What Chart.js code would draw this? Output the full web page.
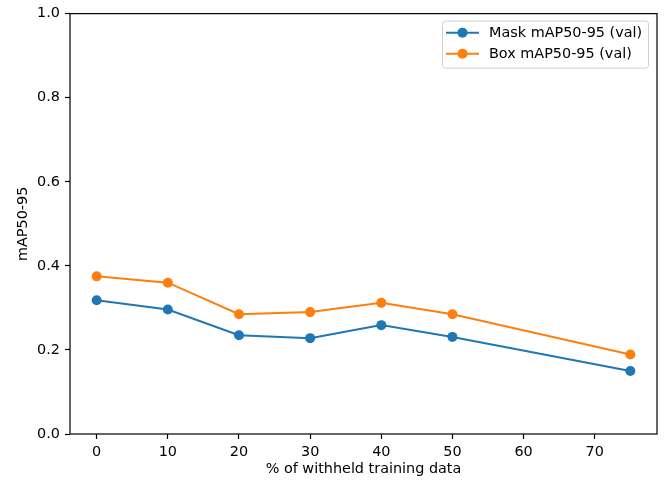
<!DOCTYPE html>
<html>
<head>
<meta charset="utf-8">
<script src="https://cdn.jsdelivr.net/npm/chart.js@4/dist/chart.umd.min.js"></script>
<style>
  html, body { margin: 0; padding: 0; background: #fff; }
  #wrap { width: 666px; height: 481px; }
</style>
</head>
<body>
<div id="wrap"><canvas id="chart" width="666" height="481"></canvas></div>
<script>
// === Data ===
const withheldPct = [0, 10, 20, 30, 40, 50, 75];
const maskMap = [0.318, 0.296, 0.235, 0.228, 0.259, 0.231, 0.150];
const boxMap = [0.375, 0.360, 0.285, 0.290, 0.312, 0.285, 0.189];
const xTicks = [0, 10, 20, 30, 40, 50, 60, 70];
const yTicks = [0.0, 0.2, 0.4, 0.6, 0.8, 1.0];

const BLUE = '#1f77b4';
const ORANGE = '#ff7f0e';
const FONT = "'DejaVu Sans', sans-serif";
const FONT_SIZE = 14.4;

Chart.defaults.font.family = FONT;
Chart.defaults.font.size = FONT_SIZE;
Chart.defaults.color = '#000';

const toPoints = (vals) => vals.map((v, i) => ({ x: withheldPct[i], y: v }));

// frame round the plot area (all four spines)
const framePlugin = {
    id: 'frame',
    afterDraw(chart) {
        const { ctx, chartArea: a } = chart;
        ctx.save();
        ctx.strokeStyle = '#000';
        ctx.lineWidth = 1.2;
        ctx.strokeRect(a.left, a.top, a.right - a.left, a.bottom - a.top);
        ctx.restore();
    }
};

// legend box in the upper right corner
const legendPlugin = {
    id: 'mplLegend',
    afterDraw(chart) {
        const { ctx, chartArea: a } = chart;
        const sets = chart.data.datasets;
        const w = 206, rowH = 21;
        const h = sets.length * rowH + 5;
        const x = a.right - 9 - w, y = a.top + 7;
        ctx.save();
        ctx.fillStyle = 'rgba(255,255,255,0.8)';
        ctx.strokeStyle = '#d0d0d0';
        ctx.lineWidth = 1;
        ctx.beginPath();
        ctx.roundRect(x + 0.5, y + 0.5, w, h, 3);
        ctx.fill();
        ctx.stroke();
        ctx.font = FONT_SIZE + 'px ' + FONT;
        ctx.textBaseline = 'middle';
        sets.forEach((ds, i) => {
            const cy = y + 12 + i * rowH;
            ctx.strokeStyle = ds.borderColor;
            ctx.lineWidth = 2;
            ctx.beginPath();
            ctx.moveTo(x + 4, cy);
            ctx.lineTo(x + 37, cy);
            ctx.stroke();
            ctx.fillStyle = ds.borderColor;
            ctx.beginPath();
            ctx.arc(x + 20.5, cy, 5, 0, Math.PI * 2);
            ctx.fill();
            ctx.fillStyle = '#000';
            ctx.fillText(ds.label, x + 47, cy + 1);
        });
        ctx.restore();
    }
};

const ds = (label, vals, color) => ({
    label,
    data: toPoints(vals),
    borderColor: color,
    backgroundColor: color,
    borderWidth: 2,
    pointRadius: 5,
    pointHoverRadius: 5,
    pointBorderWidth: 0,
    tension: 0
});

new Chart(document.getElementById('chart'), {
    type: 'line',
    data: {
        datasets: [
            ds('Mask mAP50-95 (val)', maskMap, BLUE),
            ds('Box mAP50-95 (val)', boxMap, ORANGE)
        ]
    },
    options: {
        responsive: false,
        animation: false,
        layout: { padding: { top: 13, right: 9, left: 0, bottom: 0 } },
        plugins: { legend: { display: false }, tooltip: { enabled: false } },
        scales: {
            x: {
                type: 'linear',
                min: -3.75,
                max: 78.75,
                afterBuildTicks: (s) => { s.ticks = xTicks.map(v => ({ value: v })); },
                afterFit: (s) => { s.height = 47; },
                ticks: { padding: 5, maxRotation: 0, callback: (v) => String(v) },
                grid: { drawOnChartArea: false, tickLength: 5, color: '#000', tickWidth: 1.2 },
                border: { display: false },
                title: { display: true, text: '% of withheld training data', padding: { top: 1, bottom: 3.4 } }
            },
            y: {
                min: 0,
                max: 1,
                afterBuildTicks: (s) => { s.ticks = yTicks.map(v => ({ value: v })); },
                afterFit: (s) => { s.width = 70; },
                ticks: { padding: 5, callback: (v) => Number(v).toFixed(1) },
                grid: { drawOnChartArea: false, tickLength: 5, color: '#000', tickWidth: 1.2 },
                border: { display: false },
                title: { display: true, text: 'mAP50-95', padding: { top: 14.4, bottom: 2 } }
            }
        }
    },
    plugins: [framePlugin, legendPlugin]
});
</script>
</body>
</html>
